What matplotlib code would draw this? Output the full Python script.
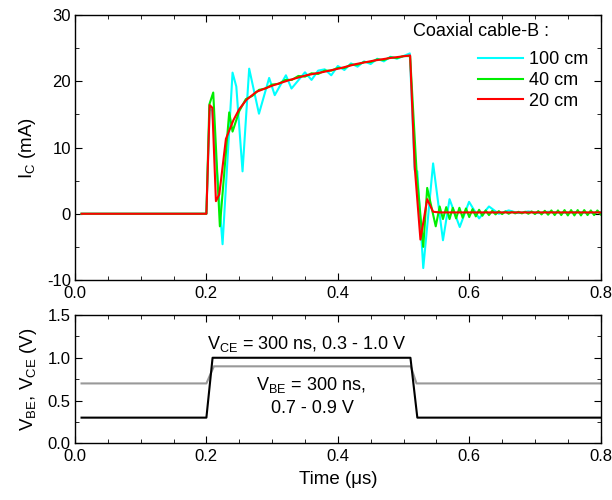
import matplotlib
matplotlib.use("Agg")
import matplotlib.pyplot as plt
from matplotlib.ticker import MultipleLocator

plt.rcParams["font.family"] = ["Liberation Sans", "DejaVu Sans"]
plt.rcParams["font.size"] = 13
plt.rcParams["mathtext.fontset"] = "custom"
plt.rcParams["mathtext.rm"] = "Liberation Sans"
plt.rcParams["mathtext.it"] = "Liberation Sans"

# collector current, 20 cm cable (red)
t_20 = [0.01, 0.2, 0.205, 0.209, 0.2145, 0.2196, 0.2297, 0.241, 0.25, 0.261, 0.276,
        0.302, 0.327, 0.352, 0.378, 0.403, 0.428, 0.454, 0.479, 0.51, 0.517, 0.5257,
        0.536, 0.545, 0.555, 0.8]
i_20 = [0, 0, 16.4, 16.0, 1.9, 2.9, 11.3, 14.1, 15.8, 17.2, 18.4,
        19.4, 20.2, 20.9, 21.4, 21.95, 22.6, 23.1, 23.5, 23.9, 7.1, -3.9,
        2.2, 0.3, 0.2, 0.2]

# 40 cm cable (green)
t_40 = [0.01, 0.2, 0.2045, 0.2104, 0.2205, 0.2347, 0.2398, 0.25, 0.26, 0.27, 0.28,
        0.29, 0.30, 0.31, 0.32, 0.33, 0.34, 0.35, 0.36, 0.37, 0.38, 0.39, 0.40,
        0.41, 0.42, 0.43, 0.44, 0.45, 0.46, 0.47, 0.48, 0.49, 0.50, 0.51, 0.52,
        0.530, 0.536, 0.549,
        0.555, 0.560, 0.565, 0.570, 0.575, 0.580, 0.585, 0.590, 0.595, 0.600,
        0.605, 0.610, 0.615, 0.620, 0.625, 0.630, 0.635, 0.640, 0.645, 0.650,
        0.655, 0.660, 0.665, 0.670, 0.675, 0.680, 0.685, 0.690, 0.695, 0.700,
        0.705, 0.710, 0.715, 0.720, 0.725, 0.730, 0.735, 0.740, 0.745, 0.750,
        0.755, 0.760, 0.765, 0.770, 0.775, 0.780, 0.785, 0.790, 0.795, 0.800]
i_40 = [0, 0, 16.5, 18.3, -1.9, 15.3, 12.4, 15.5, 17.3, 17.8, 18.7,
        18.9, 19.5, 19.6, 20.2, 20.2, 20.8, 20.7, 21.2, 21.1, 21.6, 21.6, 22.0,
        22.0, 22.5, 22.5, 22.9, 22.9, 23.3, 23.2, 23.6, 23.5, 23.8, 23.8, 6.1,
        -5.0, 3.9, -1.9,
        1.1, -0.8, 1.0, -0.8, 0.9, -0.7, 0.9, -0.6, 0.8, -0.5,
        0.7, -0.4, 0.6, -0.3, 0.5, -0.2, 0.45, -0.1, 0.4, -0.05,
        0.35, 0.0, 0.3, 0.05, 0.3, 0.05, 0.3, 0.0, 0.35, -0.05,
        0.4, -0.1, 0.45, -0.15, 0.5, -0.2, 0.5, -0.2, 0.55, -0.25,
        0.55, -0.25, 0.55, -0.25, 0.55, -0.2, 0.5, -0.2, 0.5, -0.1]

# 100 cm cable (cyan)
t_100 = [0.01, 0.2, 0.205, 0.209, 0.2246, 0.2398, 0.2455, 0.255, 0.2651, 0.280,
         0.2955, 0.304, 0.321, 0.3295, 0.350, 0.360, 0.370, 0.380, 0.390, 0.40,
         0.41, 0.42, 0.43, 0.44, 0.45, 0.46, 0.47, 0.48, 0.49, 0.5095, 0.517,
         0.521, 0.530, 0.545, 0.560, 0.570, 0.5855, 0.5997, 0.615, 0.630, 0.645,
         0.66, 0.675, 0.69, 0.705, 0.72, 0.74, 0.76, 0.78, 0.8]
i_100 = [0, 0, 16.0, 15.5, -4.6, 21.3, 19.2, 6.4, 21.9, 15.1,
         20.5, 17.9, 20.9, 18.9, 21.35, 20.2, 21.6, 21.8, 20.9, 22.3,
         21.7, 22.7, 22.2, 23.0, 22.6, 23.4, 23.0, 23.7, 23.4, 24.2, 6.6,
         6.4, -8.2, 7.6, -4.0, 2.2, -2.0, 1.8, -0.7, 1.1, 0.0,
         0.5, 0.1, 0.35, 0.1, 0.3, 0.15, 0.25, 0.15, 0.2]

# bias pulses
t_vce = [0.01, 0.2, 0.2094, 0.5105, 0.521, 0.8]
v_ce = [0.3, 0.3, 1.0, 1.0, 0.3, 0.3]
t_vbe = [0.01, 0.2, 0.2114, 0.511, 0.5197, 0.8]
v_be = [0.7, 0.7, 0.9, 0.9, 0.7, 0.7]

fig = plt.figure(figsize=(6.12, 5.0), dpi=100)
ax1 = fig.add_axes([0.1225, 0.44, 0.859, 0.53])
ax2 = fig.add_axes([0.1225, 0.1134, 0.859, 0.2566])

ax1.plot(t_100, i_100, color="#00ffff", lw=1.5, label="100 cm")
ax1.plot(t_40, i_40, color="#00ee00", lw=1.5, label="40 cm")
ax1.plot(t_20, i_20, color="#ff0000", lw=1.5, label="20 cm")
ax1.set_xlim(0, 0.8)
ax1.set_ylim(-10, 30)
ax1.set_ylabel("I$_\\mathrm{C}$ (mA)", fontsize=13.5, labelpad=6)
ax1.yaxis.set_major_locator(MultipleLocator(10))
ax1.yaxis.set_minor_locator(MultipleLocator(5))
ax1.text(0.643, 0.936, "Coaxial cable-B :", transform=ax1.transAxes,
         fontsize=13, ha="left", va="center")
ax1.legend(loc="upper left", bbox_to_anchor=(0.752, 0.89), frameon=False, fontsize=13,
           handlelength=2.5, handletextpad=0.35, labelspacing=0.2, borderaxespad=0)

ax2.plot(t_vbe, v_be, color="#999999", lw=1.5)
ax2.plot(t_vce, v_ce, color="black", lw=1.5)
ax2.set_xlim(0, 0.8)
ax2.set_ylim(0, 1.5)
ax2.yaxis.set_major_locator(MultipleLocator(0.5))
ax2.yaxis.set_minor_locator(MultipleLocator(0.25))
ax2.set_ylabel("V$_\\mathrm{BE}$, V$_\\mathrm{CE}$ (V)", fontsize=13.5, labelpad=6)
ax2.set_xlabel("Time (\u03bcs)", fontsize=13.5, labelpad=5)
ax2.text(0.353, 1.16, "V$_\\mathrm{CE}$ = 300 ns, 0.3 - 1.0 V", ha="center", va="center", fontsize=13)
ax2.text(0.359, 0.68, "V$_\\mathrm{BE}$ = 300 ns,", ha="center", va="center", fontsize=13)
ax2.text(0.361, 0.41, "0.7 - 0.9 V", ha="center", va="center", fontsize=13)

for ax in (ax1, ax2):
    ax.xaxis.set_major_locator(MultipleLocator(0.2))
    ax.xaxis.set_minor_locator(MultipleLocator(0.05))
    ax.tick_params(which="both", direction="in", top=True, right=True, labelsize=12, pad=3)
    ax.tick_params(axis="x", which="major", pad=4)
    ax.tick_params(which="major", length=5)
    ax.tick_params(which="minor", length=3)
    ax.xaxis.set_major_formatter(plt.FuncFormatter(lambda v, p: f"{v:.1f}"))
    for s in ax.spines.values():
        s.set_linewidth(1.0)
ax1.yaxis.set_major_formatter(plt.FuncFormatter(lambda v, p: f"{v:.0f}"))
ax2.yaxis.set_major_formatter(plt.FuncFormatter(lambda v, p: f"{v:.1f}"))

fig.savefig("out.png", dpi=100)
